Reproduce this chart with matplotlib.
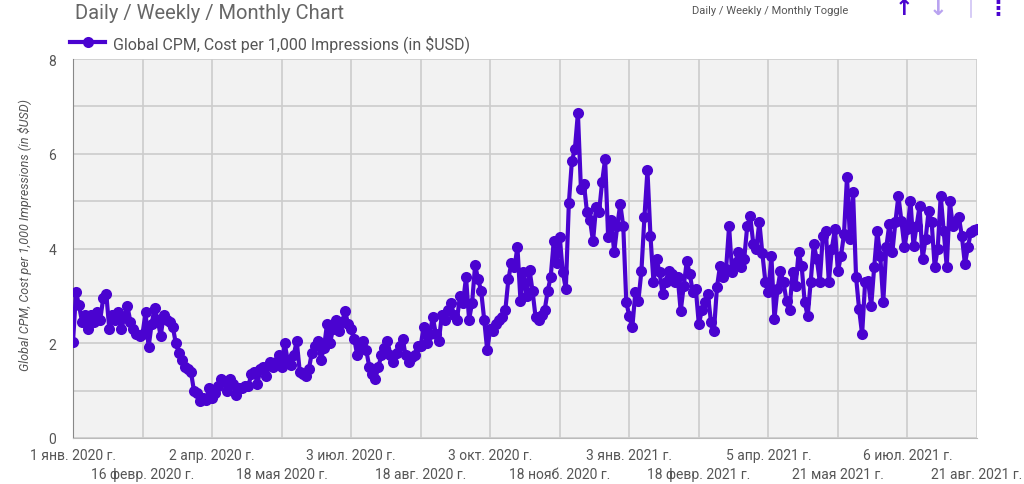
import pandas as pd
import matplotlib.pyplot as plt
from matplotlib.lines import Line2D

plt.rcParams['font.family'] = ['Roboto', 'DejaVu Sans']

# values every 2 days, 1 Jan 2020 .. 21 Aug 2021
cpm_p1 = [2.02, 3.08, 2.8, 2.45, 2.6, 2.3, 2.6, 2.45, 2.65, 2.5, 2.95, 3.05, 2.3, 2.6, 2.5, 2.65, 2.3, 2.55, 2.78, 2.45, 2.3, 2.2, 2.15]
cpm_p2 = [2.2, 2.65, 1.92, 2.4, 2.75, 2.5, 2.15, 2.6, 2.5, 2.45, 2.35, 2.0, 1.8, 1.65, 1.5, 1.45, 1.4, 1.0, 0.95, 0.78, 0.85, 0.8, 1.05]
cpm_p3 = [0.85, 0.95, 1.1, 1.25, 1.2, 1.0, 1.25, 1.15, 0.9, 1.05, 1.05, 1.1, 1.1, 1.35, 1.4, 1.15, 1.45, 1.5, 1.3, 1.6, 1.5, 1.6, 1.75]
cpm_p4 = [1.5, 2.0, 1.65, 1.55, 1.75, 2.05, 1.4, 1.35, 1.3, 1.45, 1.8, 1.95, 2.05, 1.65, 1.9, 2.4, 2.0, 2.3, 2.5, 2.25, 2.45, 2.68, 2.4]
cpm_p5 = [2.3, 2.1, 1.75, 1.95, 2.05, 1.85, 1.5, 1.35, 1.25, 1.5, 1.75, 1.9, 2.05, 1.75, 1.6, 1.8, 1.95, 2.1, 1.75, 1.6, 1.7, 1.75, 1.95]
cpm_p6 = [1.95, 2.35, 2.0, 2.2, 2.55, 2.2, 2.05, 2.6, 2.5, 2.7, 2.85, 2.6, 2.5, 3.0, 2.85, 3.4, 2.5, 2.85, 3.65, 3.35, 3.1, 2.5, 1.85]
cpm_p7 = [2.3, 2.25, 2.4, 2.5, 2.55, 2.7, 3.35, 3.7, 3.6, 4.03, 2.9, 3.5, 3.0, 3.55, 3.1, 2.55, 2.5, 2.6, 2.7, 3.1, 3.4, 4.15, 3.7]
cpm_p8 = [4.24, 3.5, 3.15, 4.95, 5.84, 6.1, 6.86, 5.25, 5.36, 4.77, 4.6, 4.15, 4.87, 4.77, 5.4, 5.89, 4.24, 4.6, 3.92, 4.47, 4.94, 4.47, 2.87]
cpm_p9 = [2.57, 2.34, 3.08, 2.9, 3.52, 4.66, 5.65, 4.26, 3.29, 3.78, 3.5, 3.04, 3.3, 3.52, 3.46, 3.3, 3.4, 2.68, 3.2, 3.73, 3.46, 3.08, 3.14]
cpm_p10 = [2.4, 2.7, 2.87, 3.04, 2.45, 2.26, 3.19, 3.63, 3.4, 3.56, 4.47, 3.5, 3.7, 3.92, 3.6, 3.78, 4.47, 4.68, 4.1, 3.99, 4.56, 3.9, 3.3]
cpm_p11 = [3.08, 3.84, 2.51, 3.14, 3.52, 3.29, 2.89, 2.7, 3.5, 3.21, 3.92, 3.63, 2.87, 2.57, 3.3, 4.09, 3.78, 3.3, 4.26, 4.37, 3.29, 4.0, 4.41]
cpm_p12 = [3.52, 3.84, 4.3, 5.51, 4.2, 5.19, 3.4, 2.72, 2.19, 3.29, 3.31, 2.78, 3.61, 4.37, 3.84, 2.87, 4.03, 4.51, 3.92, 4.55, 5.11, 4.58, 4.03]
cpm_p13 = [4.41, 5.0, 4.05, 4.47, 4.89, 3.78, 4.2, 4.79, 4.56, 3.61, 3.99, 5.11, 4.37, 3.61, 5.0, 4.47, 4.58, 4.66, 4.26, 3.67, 4.03, 4.35, 4.4, 4.41]

cpm = (cpm_p1 + cpm_p2 + cpm_p3 + cpm_p4 + cpm_p5 + cpm_p6 + cpm_p7 + cpm_p8
       + cpm_p9 + cpm_p10 + cpm_p11 + cpm_p12 + cpm_p13)
dates = pd.date_range('2020-01-01', periods=len(cpm), freq='2D')

tick_dates = pd.date_range('2020-01-01', periods=14, freq='46D')
tick_labels = ['1 янв. 2020 г.', '16 февр. 2020 г.', '2 апр. 2020 г.', '18 мая 2020 г.',
               '3 июл. 2020 г.', '18 авг. 2020 г.', '3 окт. 2020 г.', '18 нояб. 2020 г.',
               '3 янв. 2021 г.', '18 февр. 2021 г.', '5 апр. 2021 г.', '21 мая 2021 г.',
               '6 июл. 2021 г.', '21 авг. 2021 г.']

purple = '#4a03d0'
grey = '#555555'

fig = plt.figure(figsize=(10.24, 4.85), dpi=100)
ax = fig.add_axes([73/1024, 46/485, 904/1024, 379/485])
ax.set_facecolor('#f2f2f2')

ax.plot(dates, cpm, color=purple, lw=3, marker='o', ms=8, mew=0,
        label='Global CPM, Cost per 1,000 Impressions (in $USD)', zorder=3)

ax.set_xlim(tick_dates[0], tick_dates[-1])
ax.set_ylim(0, 8)
ax.set_yticks([0, 2, 4, 6, 8])
ax.set_yticks([1, 3, 5, 7], minor=True)
ax.set_xticks(tick_dates[::2], tick_labels[::2])
ax.set_xticks(tick_dates[1::2], tick_labels[1::2], minor=True)
ax.grid(which='both', color='#cccccc', lw=1.2, zorder=0)
ax.set_axisbelow(True)
ax.tick_params(axis='both', which='both', length=0, colors=grey, labelsize=10)
ax.tick_params(axis='x', which='major', pad=7)
ax.tick_params(axis='x', which='minor', pad=21)
ax.tick_params(axis='y', pad=12)

for side in ['top', 'right']:
    ax.spines[side].set_visible(False)
ax.spines['left'].set_color('#888888')
ax.spines['bottom'].set_color('#bbbbbb')

fig.text(25/1024, 250/485, 'Global CPM, Cost per 1,000 Impressions (in $USD)',
         rotation=90, ha='center', va='center', fontsize=9, style='italic', color=grey)

fig.text(75/1024, 1 - 19/485, 'Daily / Weekly / Monthly Chart', fontsize=14.5,
         color='#666666', va='baseline')

ax.legend(loc='center left', bbox_to_anchor=(70/1024, 1 - 44/485), bbox_transform=fig.transFigure,
          frameon=False, borderaxespad=0, borderpad=0, handlelength=2.2, handletextpad=0.5,
          prop={'size': 11.5}, labelcolor=grey)

fig.text(692/1024, 1 - 11/485, 'Daily / Weekly / Monthly Toggle', fontsize=8,
         color=grey, va='center')
fig.text(904/1024, 1 - 9/485, '↑', fontsize=16, color=purple, ha='center', va='center',
         family='DejaVu Sans', fontweight='bold')
fig.text(938/1024, 1 - 9/485, '↓', fontsize=16, color='#b9a3f0', ha='center', va='center',
         family='DejaVu Sans', fontweight='bold')
fig.add_artist(Line2D([971/1024, 971/1024], [1 - 18/485, 1], color='#cfc3f5', lw=1.2))
fig.text(998/1024, 1 - 8/485, '⋮', fontsize=15, color=purple, ha='center', va='center',
         family='DejaVu Sans', fontweight='bold')

fig.savefig('out.png', dpi=100)
